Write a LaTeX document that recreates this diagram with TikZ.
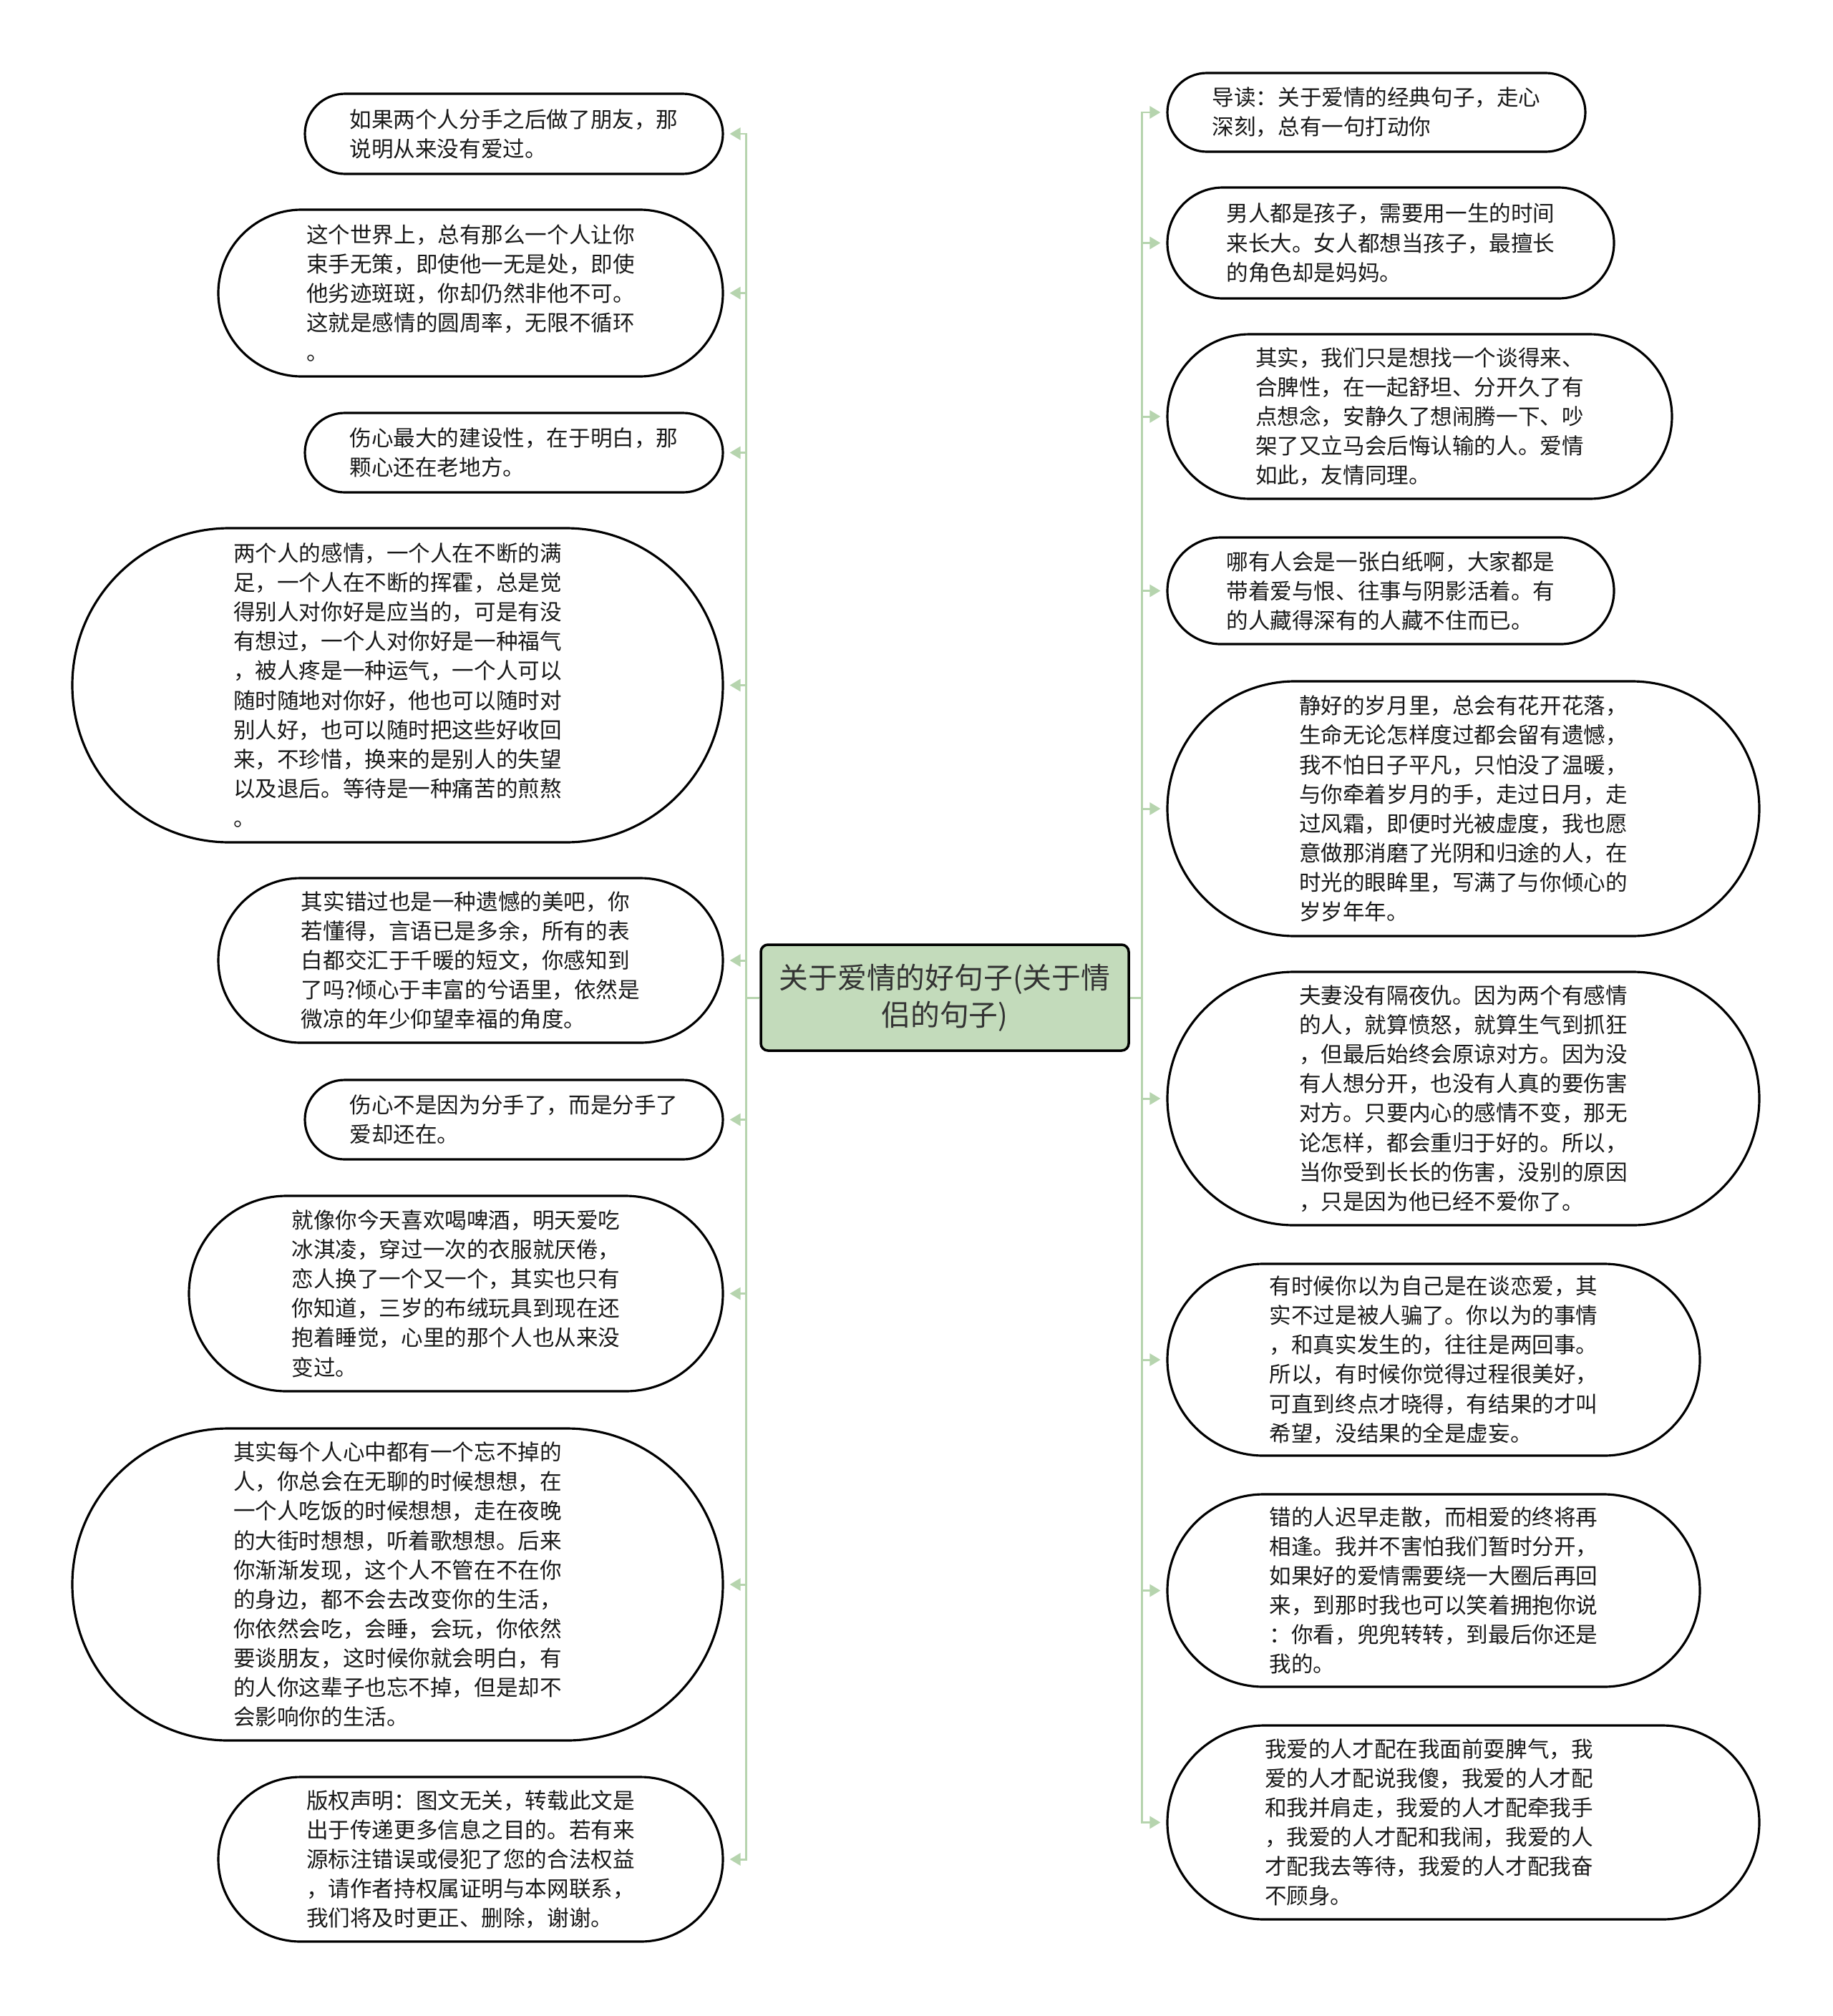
\documentclass[tikz,border=0pt]{standalone}
\usepackage{fontspec}
\newfontfamily\cjk{Noto Sans CJK SC}
\usetikzlibrary{arrows.meta}
\definecolor{clink}{RGB}{182,212,174}
\definecolor{croot}{RGB}{195,219,187}
\definecolor{ctext}{RGB}{51,51,51}

\tikzset{
  leaf/.style={draw,line width=0.9pt,fill=white,align=left,inner sep=0pt,text=black!90,
    font=\cjk\fontsize{8.7}{11.7}\selectfont},
  root/.style={draw,line width=1pt,fill=croot,rounded corners=1mm,align=center,text=ctext,
    font=\cjk\fontsize{11.6}{14.8}\selectfont},
  link/.style={clink,line width=0.85pt,-{Triangle[length=1.5mm,width=1.7mm]},shorten >=0.8mm},
}

\begin{document}
\begin{tikzpicture}
 \useasboundingbox (0,0) rectangle (25.6,-28.17);
 % ---- root ----
 \node[root,minimum width=5.14cm,minimum height=1.48cm] (root) at (13.20,-13.94)
   {关于爱情的好句子(关于情\\侣的句子)};
 \coordinate (jl) at (10.42,-13.94);
 \coordinate (jr) at (15.95,-13.94);
 % ---- left branch ----
 \foreach \i/\x/\y/\w/\h/\txt in {%
  1/7.18/-1.87/5.84/1.12/{如果两个人分手之后做了朋友，那\\说明从来没有爱过。},
  2/6.575/-4.095/7.05/2.33/{这个世界上，总有那么一个人让你\\束手无策，即使他一无是处，即使\\他劣迹斑斑，你却仍然非他不可。\\这就是感情的圆周率，无限不循环\\。},
  3/7.18/-6.325/5.84/1.11/{伤心最大的建设性，在于明白，那\\颗心还在老地方。},
  4/5.555/-9.575/9.09/4.39/{两个人的感情，一个人在不断的满\\足，一个人在不断的挥霍，总是觉\\得别人对你好是应当的，可是有没\\有想过，一个人对你好是一种福气\\，被人疼是一种运气，一个人可以\\随时随地对你好，他也可以随时对\\别人好，也可以随时把这些好收回\\来，不珍惜，换来的是别人的失望\\以及退后。等待是一种痛苦的煎熬\\。},
  5/6.575/-13.42/7.05/2.30/{其实错过也是一种遗憾的美吧，你\\若懂得，言语已是多余，所有的表\\白都交汇于千暖的短文，你感知到\\了吗?倾心于丰富的兮语里，依然是\\微凉的年少仰望幸福的角度。},
  6/7.18/-15.645/5.84/1.11/{伤心不是因为分手了，而是分手了\\爱却还在。},
  7/6.37/-18.075/7.46/2.73/{就像你今天喜欢喝啤酒，明天爱吃\\冰淇凌，穿过一次的衣服就厌倦，\\恋人换了一个又一个，其实也只有\\你知道，三岁的布绒玩具到现在还\\抱着睡觉，心里的那个人也从来没\\变过。},
  8/5.555/-22.14/9.09/4.36/{其实每个人心中都有一个忘不掉的\\人，你总会在无聊的时候想想，在\\一个人吃饭的时候想想，走在夜晚\\的大街时想想，听着歌想想。后来\\你渐渐发现，这个人不管在不在你\\的身边，都不会去改变你的生活，\\你依然会吃，会睡，会玩，你依然\\要谈朋友，这时候你就会明白，有\\的人你这辈子也忘不掉，但是却不\\会影响你的生活。},
  9/6.575/-25.98/7.05/2.30/{版权声明：图文无关，转载此文是\\出于传递更多信息之目的。若有来\\源标注错误或侵犯了您的合法权益\\，请作者持权属证明与本网联系，\\我们将及时更正、删除，谢谢。}} {
   \pgfmathsetmacro\rad{\h/2}
   \node[leaf,minimum width=\w cm,minimum height=\h cm,rounded corners=\rad cm] (l\i) at (\x,\y) {\txt};
   \draw[link] (root.west) -- (jl) |- (l\i.east);
 }
 % ---- right branch ----
 \foreach \i/\x/\y/\w/\h/\txt in {%
  1/19.23/-1.57/5.84/1.10/{导读：关于爱情的经典句子，走心\\深刻，总有一句打动你},
  2/19.43/-3.395/6.24/1.55/{男人都是孩子，需要用一生的时间\\来长大。女人都想当孩子，最擅长\\的角色却是妈妈。},
  3/19.835/-5.82/7.05/2.30/{其实，我们只是想找一个谈得来、\\合脾性，在一起舒坦、分开久了有\\点想念，安静久了想闹腾一下、吵\\架了又立马会后悔认输的人。爱情\\如此，友情同理。},
  4/19.43/-8.255/6.24/1.49/{哪有人会是一张白纸啊，大家都是\\带着爱与恨、往事与阴影活着。有\\的人藏得深有的人藏不住而已。},
  5/20.445/-11.30/8.27/3.56/{静好的岁月里，总会有花开花落，\\生命无论怎样度过都会留有遗憾，\\我不怕日子平凡，只怕没了温暖，\\与你牵着岁月的手，走过日月，走\\过风霜，即便时光被虚度，我也愿\\意做那消磨了光阴和归途的人，在\\时光的眼眸里，写满了与你倾心的\\岁岁年年。},
  6/20.445/-15.35/8.27/3.54/{夫妻没有隔夜仇。因为两个有感情\\的人，就算愤怒，就算生气到抓狂\\，但最后始终会原谅对方。因为没\\有人想分开，也没有人真的要伤害\\对方。只要内心的感情不变，那无\\论怎样，都会重归于好的。所以，\\当你受到长长的伤害，没别的原因\\，只是因为他已经不爱你了。},
  7/20.03/-19.00/7.44/2.68/{有时候你以为自己是在谈恋爱，其\\实不过是被人骗了。你以为的事情\\，和真实发生的，往往是两回事。\\所以，有时候你觉得过程很美好，\\可直到终点才晓得，有结果的才叫\\希望，没结果的全是虚妄。},
  8/20.03/-22.225/7.44/2.69/{错的人迟早走散，而相爱的终将再\\相逢。我并不害怕我们暂时分开，\\如果好的爱情需要绕一大圈后再回\\来，到那时我也可以笑着拥抱你说\\：你看，兜兜转转，到最后你还是\\我的。},
  9/20.445/-25.465/8.27/2.71/{我爱的人才配在我面前耍脾气，我\hspace*{0.96cm}\\爱的人才配说我傻，我爱的人才配\\和我并肩走，我爱的人才配牵我手\\，我爱的人才配和我闹，我爱的人\\才配我去等待，我爱的人才配我奋\\不顾身。}} {
   \pgfmathsetmacro\rad{\h/2}
   \node[leaf,minimum width=\w cm,minimum height=\h cm,rounded corners=\rad cm] (r\i) at (\x,\y) {\txt};
   \draw[link] (root.east) -- (jr) |- (r\i.west);
 }
\end{tikzpicture}
\end{document}
